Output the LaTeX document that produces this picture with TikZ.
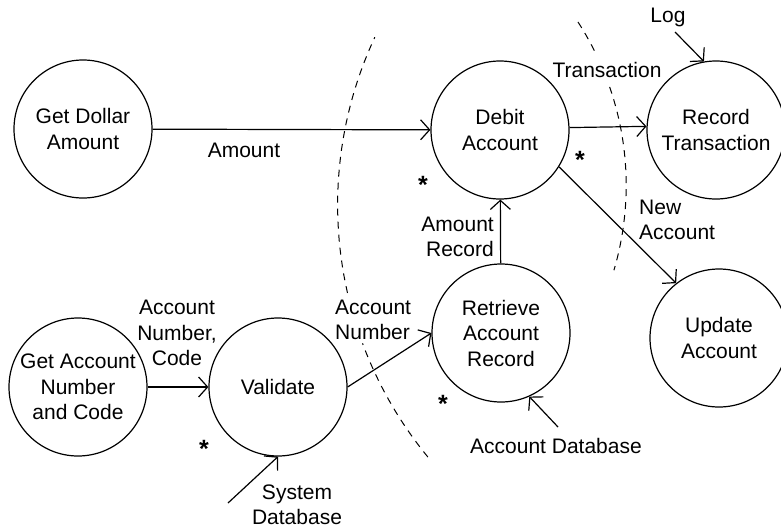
\documentclass[tikz,border=0pt]{standalone}
\usepackage{fontspec}
\setmainfont{Liberation Sans}
\usetikzlibrary{arrows.meta}
\begin{document}
\begin{tikzpicture}[x=1pt,y=-1pt,
  font=\fontsize{21}{25.5}\selectfont,
  proc/.style={circle, draw, line width=1.2pt, minimum size=138pt, inner sep=0pt, align=center},
  lbl/.style={inner sep=0pt, align=center},
  flow/.style={line width=1.2pt, -{Straight Barb[length=9pt,width=20pt,line width=1.2pt]}},
  boundary/.style={line width=1pt, dash pattern=on 7pt off 6pt},
  staris/.style={inner sep=0pt, anchor=base, font=\fontsize{25}{25}\selectfont\bfseries}]
\useasboundingbox (0,0) rectangle (781,528);

% processes
\node[proc] (gda) at (83,129) {Get Dollar\\Amount};
\node[proc] (debit) at (500,130) {Debit\\Account};
\node[proc] (rec) at (716,130) {Record\\Transaction};
\node[proc] (gan) at (78,387) {Get Account\\Number\\and Code};
\node[proc] (val) at (278,387) {Validate};
\node[proc] (ret) at (501,333) {Retrieve\\Account\\Record};
\node[proc] (upd) at (719,338) {Update\\Account};

% free ends
\coordinate (logc) at (675,32);
\coordinate (sysc) at (228,503);
\coordinate (adbc) at (558,427);

% flows
\draw[flow] (gda) -- (debit);
\draw[flow] (debit.2.5) -- (rec.177.5);
\draw[flow] (logc) -- (rec.100);
\draw[flow] (ret) -- (debit);
\draw[flow] (debit.-32) -- (upd.128);
\draw[flow] (gan) -- (val);
\draw[flow] (val.east) -- (ret.west);
\draw[flow] (sysc) -- (val.south);
\draw[flow] (adbc) -- (ret.-66);

% labels
\node[lbl] (lamount) at (244,150) {Amount};
\node[lbl] (ltrans) at (607,70) {Transaction};
\node[lbl] (llog) at (668,17) {Log};
\node[lbl, anchor=east, align=right] (lamrec) at (494,237) {Amount\\Record};
\node[lbl, anchor=west, align=left] (lnewacc) at (639,220) {New\\Account};
\node[lbl] (lacn) at (177,333) {Account\\Number,\\Code};
\node[lbl, anchor=west, align=left] (lanum) at (335,320) {Account\\Number};
\node[lbl] (lsys) at (297,505) {System\\Database};
\node[lbl] (ladb) at (556,446) {Account Database};

% stars
\node[staris] (s1) at (423,193) {*};
\node[staris] (s2) at (580,168) {*};
\node[staris] (s3) at (204,457) {*};
\node[staris] (s4) at (443,412) {*};

% dashed boundaries
\draw[boundary] plot[domain=167.2:205, samples=30] ({734.6+397*cos(\x)},{205+397*sin(\x)});
\draw[boundary] plot[domain=140.6:159.6, samples=20] ({734.6+397*cos(\x)},{205+397*sin(\x)});
\draw[boundary] plot[domain=-32.9:-26.3, samples=8] ({325.5+300.7*cos(\x)},{185.3+300.7*sin(\x)});
\draw[boundary] plot[domain=-19.1:16.4, samples=30] ({325.5+300.7*cos(\x)},{185.3+300.7*sin(\x)});
\end{tikzpicture}
\end{document}
